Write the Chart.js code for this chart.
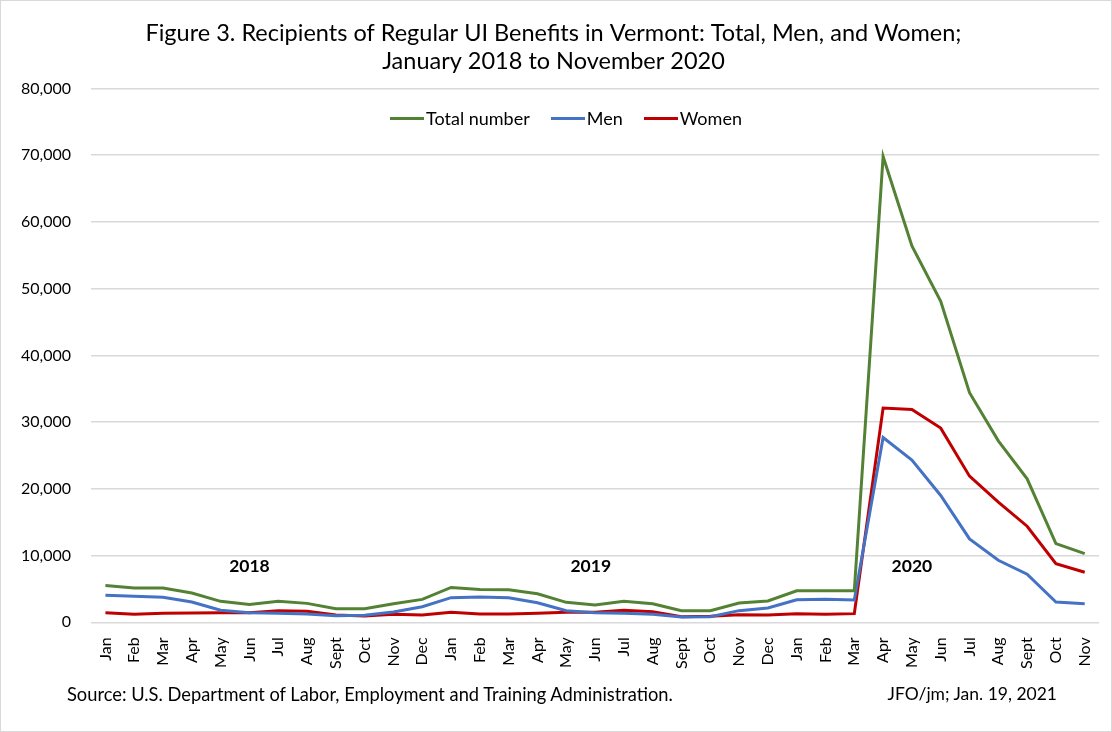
<!DOCTYPE html>
<html>
<head>
<meta charset="utf-8">
<script src="https://cdn.jsdelivr.net/npm/chart.js@4.4.0/dist/chart.umd.min.js"></script>
<style>
  body { margin: 0; background: #fff; font-family: Lato, sans-serif; }
  #wrap { position: relative; width: 1110px; height: 730px; border: 1px solid #d9d9d9; }
  .foot { position: absolute; top: 682px; font-size: 17.5px; color: #000; }
  #legend { position: absolute; top: 106px; left: 389px; display: flex; align-items: center; font-size: 18px; color: #000; }
  #legend .item { display: flex; align-items: center; margin-right: 21px; }
  #legend .swatch { display: inline-block; width: 34px; height: 3px; margin-right: 2px; }
</style>
</head>
<body>
<div id="wrap">
  <canvas id="myChart" width="1110" height="730"></canvas>
  <div id="legend"></div>
  <div class="foot" style="left:66px; font-size:18.3px">Source: U.S. Department of Labor, Employment and Training Administration.</div>
  <div class="foot" style="right:54px">JFO/jm; Jan. 19, 2021</div>
</div>
<script>
var months = ["Jan","Feb","Mar","Apr","May","Jun","Jul","Aug","Sept","Oct","Nov","Dec",
  "Jan","Feb","Mar","Apr","May","Jun","Jul","Aug","Sept","Oct","Nov","Dec",
  "Jan","Feb","Mar","Apr","May","Jun","Jul","Aug","Sept","Oct","Nov"];

var totalValues = [5530, 5130, 5130, 4390, 3140, 2690, 3140, 2840, 2040, 2040, 2790, 3440,
  5230, 4930, 4880, 4290, 2990, 2590, 3140, 2790, 1750, 1750, 2890, 3190,
  4730, 4730, 4730, 69800, 56400, 48100, 34400, 27200, 21500, 11800, 10300];
var menValues = [4040, 3890, 3740, 3040, 1800, 1450, 1350, 1250, 1000, 1050, 1550, 2340,
  3690, 3790, 3690, 2940, 1750, 1450, 1350, 1200, 800, 850, 1750, 2140,
  3390, 3440, 3340, 27700, 24300, 19000, 12500, 9300, 7200, 3040, 2800];
var womenValues = [1450, 1200, 1350, 1400, 1450, 1450, 1750, 1650, 1100, 950, 1200, 1100,
  1500, 1250, 1250, 1350, 1500, 1500, 1800, 1600, 850, 900, 1150, 1100,
  1300, 1200, 1300, 32100, 31900, 29100, 21900, 18000, 14400, 8800, 7500];

// year labels: text, category index, value height
var yearLabels = ["2018", "2019", "2020"];
var yearIndex = [5, 16.85, 28];
var yearLevel = 8400;

var yearPlugin = {
  id: "years",
  afterDatasetsDraw(chart) {
    var ctx = chart.ctx;
    var x = chart.scales.x, y = chart.scales.y;
    ctx.save();
    ctx.font = "bold 17.5px Lato";
    ctx.fillStyle = "#000";
    ctx.textAlign = "center";
    ctx.textBaseline = "middle";
    yearLabels.forEach((t, i) => {
      var px = x.getPixelForValue(0) + yearIndex[i] * (x.getPixelForValue(1) - x.getPixelForValue(0));
      ctx.fillText(t, px, y.getPixelForValue(yearLevel));
    });
    ctx.restore();
  }
};

function line(label, data, color) {
  return {
    label: label,
    data: data,
    borderColor: color,
    backgroundColor: color,
    borderWidth: 3,
    pointRadius: 0,
    tension: 0,
    fill: false
  };
}

const chart = new Chart("myChart", {
  type: "line",
  data: {
    labels: months,
    datasets: [
      line("Total number", totalValues, "#548235"),
      line("Men", menValues, "#4472c4"),
      line("Women", womenValues, "#c00000")
    ]
  },
  plugins: [yearPlugin],
  options: {
    responsive: false,
    animation: false,
    layout: { padding: { left: 0, right: 5, top: 4, bottom: 55 } },
    plugins: {
      title: {
        display: true,
        text: ["Figure 3. Recipients of Regular UI Benefits in Vermont: Total, Men, and Women;",
               "January 2018 to November 2020"],
        font: { family: "Lato", size: 23.5, weight: "normal" },
        color: "#000",
        padding: { top: 14, bottom: 13 }
      },
      legend: { display: false },
      tooltip: { enabled: false }
    },
    scales: {
      x: {
        offset: true,
        grid: { display: false },
        border: { display: false },
        ticks: {
          color: "#000",
          font: { family: "Lato", size: 16 },
          maxRotation: 90,
          minRotation: 90,
          autoSkip: false,
          padding: 7
        }
      },
      y: {
        min: 0,
        max: 80000,
        grid: { color: "#d9d9d9", lineWidth: 1.5, drawTicks: false },
        border: { display: false },
        ticks: {
          stepSize: 10000,
          color: "#000",
          font: { family: "Lato", size: 16 },
          padding: 20,
          callback: v => v.toLocaleString("en-US")
        }
      }
    }
  }
});

// legend drawn as html, built from the chart's datasets
const legend = document.getElementById("legend")
chart.data.datasets.forEach(ds => {
  legend.insertAdjacentHTML('beforeend', '<span class="item"><span class="swatch" style="background:' + ds.borderColor + '"></span>' + ds.label + '</span>')
});
</script>
</body>
</html>
